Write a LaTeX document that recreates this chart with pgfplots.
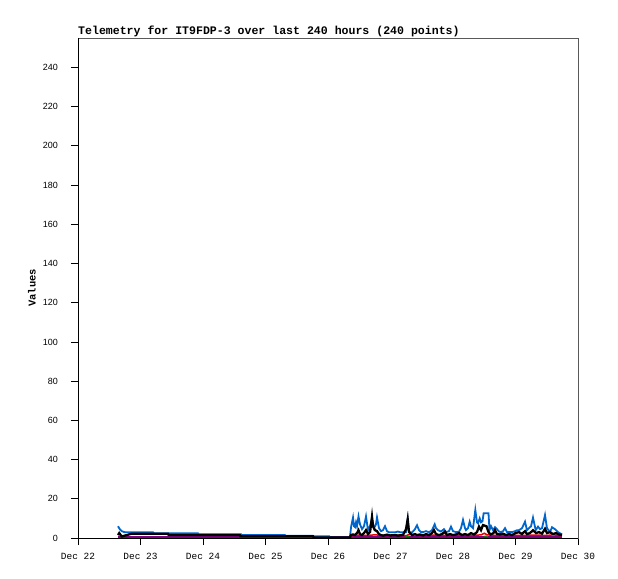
\documentclass[border=0pt]{standalone}
\usepackage{pgfplots}
\pgfplotsset{compat=1.18}
\usepackage{fontspec}
\setmainfont{Liberation Sans}
\newfontfamily\monofont{Liberation Mono}
\definecolor{tblue}{RGB}{0,102,204}
\definecolor{tred}{RGB}{230,0,0}
\definecolor{tgreen}{RGB}{0,150,0}
\definecolor{tpurple}{RGB}{128,0,128}
\begin{document}
\begin{tikzpicture}[x=1bp,y=1bp]
\path[use as bounding box] (-78,-41) rectangle (540,538);
\begin{axis}[at={(0,0)}, anchor=south west, scale only axis,
  width=500bp, height=500bp,
  xmin=0, xmax=8, ymin=0, ymax=255,
  xtick={0,1,2,3,4,5,6,7,8},
  xticklabels={Dec 22,Dec 23,Dec 24,Dec 25,Dec 26,Dec 27,Dec 28,Dec 29,Dec 30},
  ytick={0,20,...,240},
  tick align=outside, major tick length=7bp,
  xtick pos=bottom, ytick pos=left,
  tick style={black, line width=0.8bp},
  axis line style={draw=black!65, line width=0.8bp},
  /pgf/number format/assume math mode=true,
  yticklabel style={font=\fontsize{9}{10}\selectfont, inner sep=0pt, xshift=-13bp},
  xticklabel style={font=\monofont\fontsize{9.5}{10}\selectfont, inner sep=0pt, yshift=-8bp},
  title={Telemetry for IT9FDP-3 over last 240 hours (240 points)},
  title style={at={(axis description cs:0,1)}, anchor=base west, inner sep=0pt, yshift=-2.5bp,
    font=\monofont\bfseries\fontsize{11.6}{13}\selectfont},
  ylabel={Values},
  ylabel style={at={(axis description cs:-0.092,0.5)}, anchor=center, inner sep=0pt,
    font=\monofont\bfseries\fontsize{10.5}{12}\selectfont},
  clip=false,
]
% purple
\addplot[tpurple, line width=2bp] coordinates {(0.64,0.7) (7.744,0.7)};
% blue
\addplot[tblue, line width=1.8bp] coordinates {
(0.64,6.0) (0.67,4.4) (0.70,3.5) (0.74,3.0) (0.83,2.9) (1.20,2.9) (1.21,2.4) (1.92,2.4)
(1.93,1.9) (2.61,1.9) (2.62,1.5) (3.31,1.5) (3.32,1.1) (3.76,1.1) (3.77,0.9) (4.02,0.9)
(4.03,0.3) (4.35,0.3)
(4.352,0.5) (4.368,5.3) (4.384,8.0) (4.400,10.4) (4.416,6.0) (4.432,5.5) (4.448,8.0)
(4.464,6.0) (4.488,11.0) (4.512,7.0) (4.544,4.5) (4.576,6.0) (4.608,11.0) (4.640,4.0)
(4.672,6.0) (4.704,10.0) (4.736,5.0) (4.768,7.0) (4.784,10.5) (4.816,5.0) (4.848,3.5)
(4.880,4.0) (4.912,6.0) (4.944,3.5) (4.976,2.9) (5.024,2.9) (5.072,2.9) (5.120,3.3)
(5.152,2.9) (5.200,2.9) (5.248,3.0) (5.275,9.7) (5.296,3.0) (5.344,2.8) (5.392,4.5)
(5.424,6.5) (5.456,4.0) (5.488,3.0) (5.520,3.0) (5.568,3.5) (5.616,2.9) (5.664,4.0)
(5.707,7.0) (5.728,5.0) (5.760,4.0) (5.808,3.3) (5.856,4.5) (5.888,3.0) (5.936,3.5)
(5.968,5.8) (6.000,3.5) (6.048,3.0) (6.096,3.2) (6.128,5.0) (6.160,9.2) (6.192,5.0)
(6.208,4.0) (6.240,5.0) (6.267,8.3) (6.288,6.0) (6.320,5.0) (6.357,14.3) (6.384,8.0)
(6.400,7.5) (6.427,10.0) (6.448,8.0) (6.472,8.5) (6.490,12.6) (6.568,12.6) (6.584,4.0)
(6.608,6.0) (6.640,4.0) (6.672,5.5) (6.704,4.5) (6.736,3.3) (6.768,3.0) (6.800,3.5)
(6.832,5.0) (6.864,3.0) (6.896,3.0) (6.944,3.0) (6.992,3.5) (7.024,4.0) (7.056,4.0)
(7.104,5.0) (7.152,8.3) (7.184,4.0) (7.216,5.0) (7.248,6.0) (7.280,10.4) (7.323,4.0)
(7.360,5.8) (7.392,4.5) (7.424,5.0) (7.472,11.7) (7.504,5.0) (7.552,3.0) (7.584,5.5)
(7.632,4.5) (7.680,3.0) (7.712,2.4) (7.744,1.9)};
% red
\addplot[tred, line width=1.5bp] coordinates {
(4.352,1.2) (4.50,1.5) (4.60,1.3) (4.75,1.6) (4.90,1.3) (5.10,1.5) (5.25,1.2) (5.30,1.8)
(5.50,1.3) (5.70,1.5) (5.90,1.3) (6.10,1.5) (6.30,1.3) (6.45,1.6) (6.50,2.4) (6.55,1.6)
(6.70,1.3) (6.90,1.5) (7.10,1.3) (7.30,1.5) (7.50,1.3) (7.60,1.6) (7.744,1.2)};
% black
\addplot[black, line width=2.3bp] coordinates {
(0.64,1.5) (0.66,2.5) (0.70,0.8) (0.86,2.2) (1.44,2.2) (1.45,1.5) (2.59,1.5) (2.60,0.9)
(3.76,0.9) (3.77,0.2) (4.35,0.2)
(4.352,0.5) (4.368,1.5) (4.400,1.8) (4.432,1.5) (4.464,2.5) (4.488,4.0) (4.512,2.0)
(4.544,1.5) (4.576,2.5) (4.608,4.0) (4.640,2.0) (4.672,3.0) (4.688,6.6) (4.704,10.8)
(4.720,6.0) (4.752,4.0) (4.784,3.5) (4.816,2.0) (4.848,1.5) (4.880,1.2) (4.944,1.7)
(5.000,1.3) (5.072,1.5) (5.120,1.2) (5.200,1.6) (5.248,4.5) (5.275,9.5) (5.296,3.0)
(5.344,1.5) (5.392,2.0) (5.424,1.5) (5.472,1.8) (5.520,1.3) (5.568,2.0) (5.616,1.5)
(5.664,2.5) (5.696,4.0) (5.728,2.0) (5.776,1.5) (5.824,2.0) (5.872,3.2) (5.904,1.5)
(5.952,2.0) (6.000,1.5) (6.048,1.8) (6.096,2.5) (6.144,1.5) (6.192,2.0) (6.240,1.5)
(6.288,2.5) (6.336,1.8) (6.384,3.0) (6.416,5.8) (6.448,4.0) (6.480,6.6) (6.536,6.0)
(6.568,3.0) (6.600,1.8) (6.648,2.5) (6.672,4.0) (6.704,2.0) (6.752,1.8) (6.800,2.2)
(6.848,1.5) (6.896,2.0) (6.944,1.5) (7.000,2.5) (7.056,3.0) (7.104,2.0) (7.152,3.5)
(7.184,2.0) (7.232,2.5) (7.280,4.0) (7.328,2.5) (7.376,3.0) (7.424,2.2) (7.472,4.7)
(7.504,2.5) (7.552,3.0) (7.600,2.0) (7.648,2.5) (7.696,1.8) (7.744,1.5)};
% green
\addplot[tgreen, line width=1.2bp] coordinates {(5.24,0.9) (5.27,1.0) (5.30,0.9)};
\addplot[tgreen, line width=1.2bp] coordinates {(6.50,0.9) (6.53,1.0) (6.56,0.9)};
\draw[black, line width=0.8bp] (rel axis cs:0,1) -- (rel axis cs:0,0) -- (rel axis cs:1,0);
\end{axis}
\end{tikzpicture}
\end{document}
